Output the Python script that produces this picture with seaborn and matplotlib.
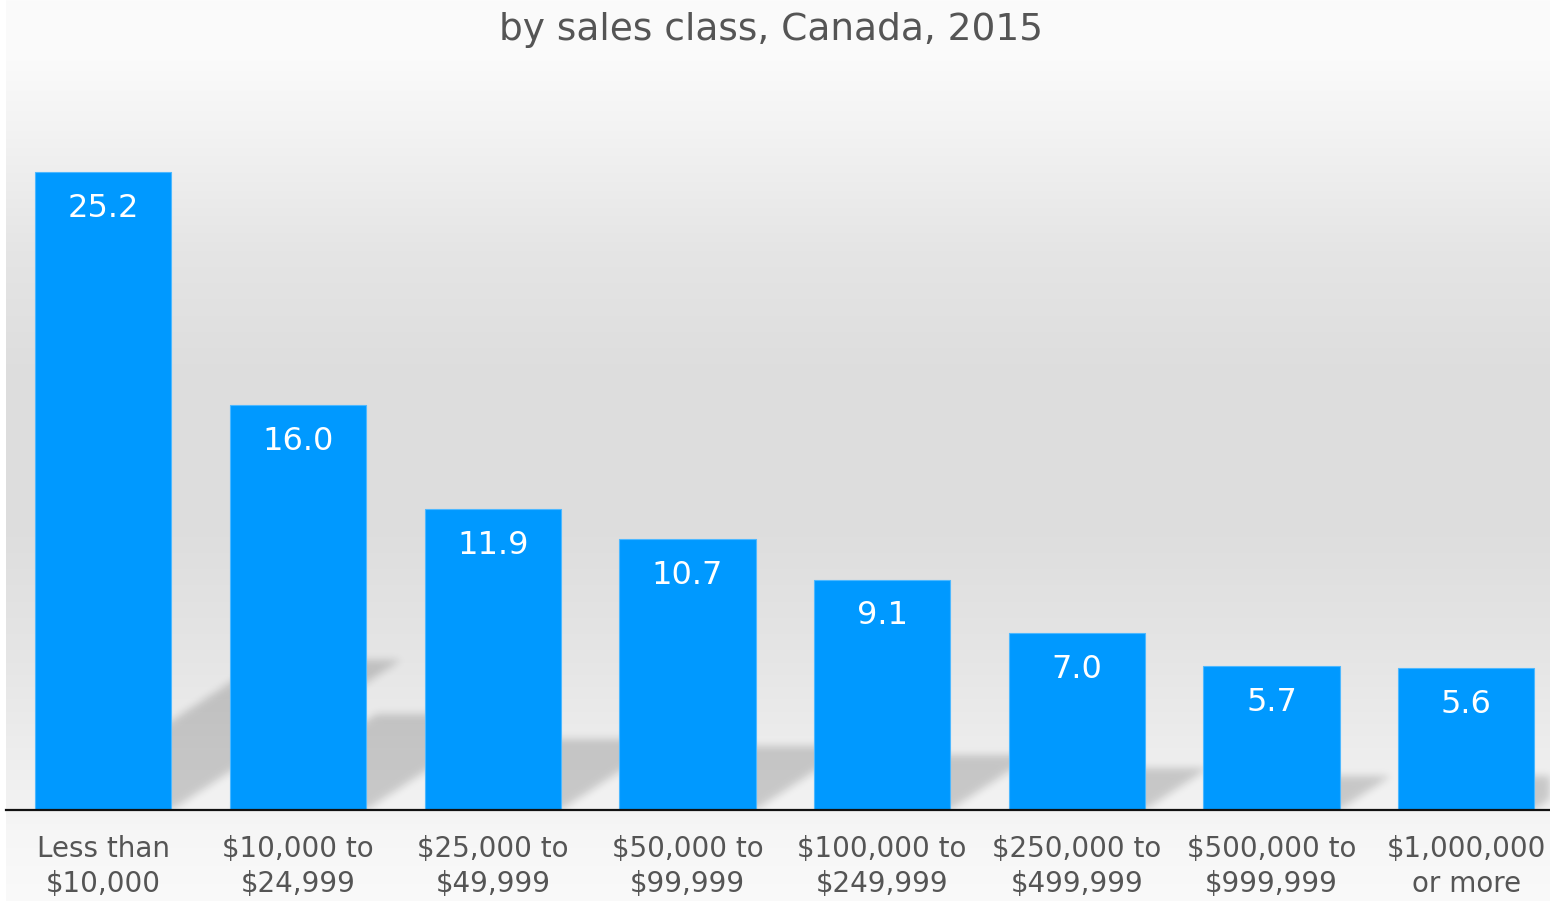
import numpy as np
import matplotlib
matplotlib.use('Agg')
import matplotlib.pyplot as plt
from matplotlib.path import Path
import seaborn as sns

# data
sales_classes = ['Less than\n$10,000', '$10,000 to\n$24,999', '$25,000 to\n$49,999',
                 '$50,000 to\n$99,999', '$100,000 to\n$249,999', '$250,000 to\n$499,999',
                 '$500,000 to\n$999,999', '$1,000,000\nor more']
percent = [25.2, 16.0, 11.9, 10.7, 9.1, 7.0, 5.7, 5.6]
title_text = 'by sales class, Canada, 2015'

sns.set_theme(style='white')
plt.rcParams['font.family'] = ['DejaVu Sans']
plt.rcParams['text.parse_math'] = False

W, H = 1550, 901
fig = plt.figure(figsize=(W / 100, H / 100), dpi=100, facecolor='white')

# background gradient (whole chart area right of x=6)
bg = fig.add_axes([6 / W, 0, 1 - 6 / W, 1], zorder=0)
stops_y = [0, 60, 130, 250, 380, 520, 650, 760, 810, 830, 901]
stops_g = [251, 250, 243, 229, 221, 221, 229, 238, 243, 246, 250]
yy = np.arange(H)
g = np.interp(yy, stops_y, stops_g) / 255.0
grad = np.repeat(g[:, None], 4, axis=1)
img = np.dstack([grad, grad, grad])
bg.imshow(img, aspect='auto', extent=[0, 1, 0, 1], origin='upper')
bg.set_axis_off()

ax = fig.add_axes([6 / W, 91 / H, 1 - 6 / W, 810 / H], zorder=1)
ax.patch.set_alpha(0)

bar_w = 0.7
sns.barplot(x=sales_classes, y=percent, color='#0099ff', saturation=1, width=bar_w,
            edgecolor='#4db8ff', linewidth=0.8, ax=ax, zorder=3)

xmin, xmax = -0.5, 7.43
ymax = 32.0
ax.set_xlim(xmin, xmax)
ax.set_ylim(0, ymax)

# blurred perspective shadows behind the bars
nx, ny = 1544, 810
xs = np.linspace(xmin, xmax, nx)
ys = np.linspace(ymax, 0, ny)
gx, gy = np.meshgrid(xs, ys)
pts = np.column_stack([gx.ravel(), gy.ravel()])
mask = np.zeros(gx.size, dtype=float)
for i, v in enumerate(percent):
    left, right = i - bar_w / 2, i + bar_w / 2
    dx, dy = 0.0468 * v, 0.235 * v
    poly = Path([(left, 0), (right, 0), (right + dx, dy), (left + dx, dy), (left, 0)])
    mask = np.maximum(mask, poly.contains_points(pts).astype(float))
mask = mask.reshape(ny, nx)
k = np.exp(-0.5 * (np.arange(-12, 13) / 4.0) ** 2)
k /= k.sum()
mask = np.apply_along_axis(lambda r: np.convolve(r, k, mode='same'), 1, mask)
mask = np.apply_along_axis(lambda c: np.convolve(c, k, mode='same'), 0, mask)
shadow = np.zeros((ny, nx, 4))
shadow[..., 3] = 0.17 * mask
ax.imshow(shadow, extent=[xmin, xmax, 0, ymax], aspect='auto', origin='upper', zorder=1)
ax.set_xlim(xmin, xmax)
ax.set_ylim(0, ymax)

for i, v in enumerate(percent):
    ax.annotate(f'{v:.1f}', xy=(i, v), xytext=(0, -15), textcoords='offset points',
                ha='center', va='top', color='white', fontsize=23, zorder=4)

for side in ['left', 'right', 'top']:
    ax.spines[side].set_visible(False)
ax.spines['bottom'].set_color('#111111')
ax.spines['bottom'].set_linewidth(1.6)
ax.spines['bottom'].set_zorder(5)
ax.set_yticks([])
ax.tick_params(axis='x', length=0, pad=18, labelsize=20, labelcolor='#555555')
for lbl in ax.get_xticklabels():
    lbl.set_linespacing(1.3)
ax.set_xlabel('')
ax.set_ylabel('')

fig.text(771 / W, 1 - 40 / H, title_text, ha='center', va='baseline',
         fontsize=27, color='#555555')

fig.savefig('out.png', dpi=100, facecolor='white')
